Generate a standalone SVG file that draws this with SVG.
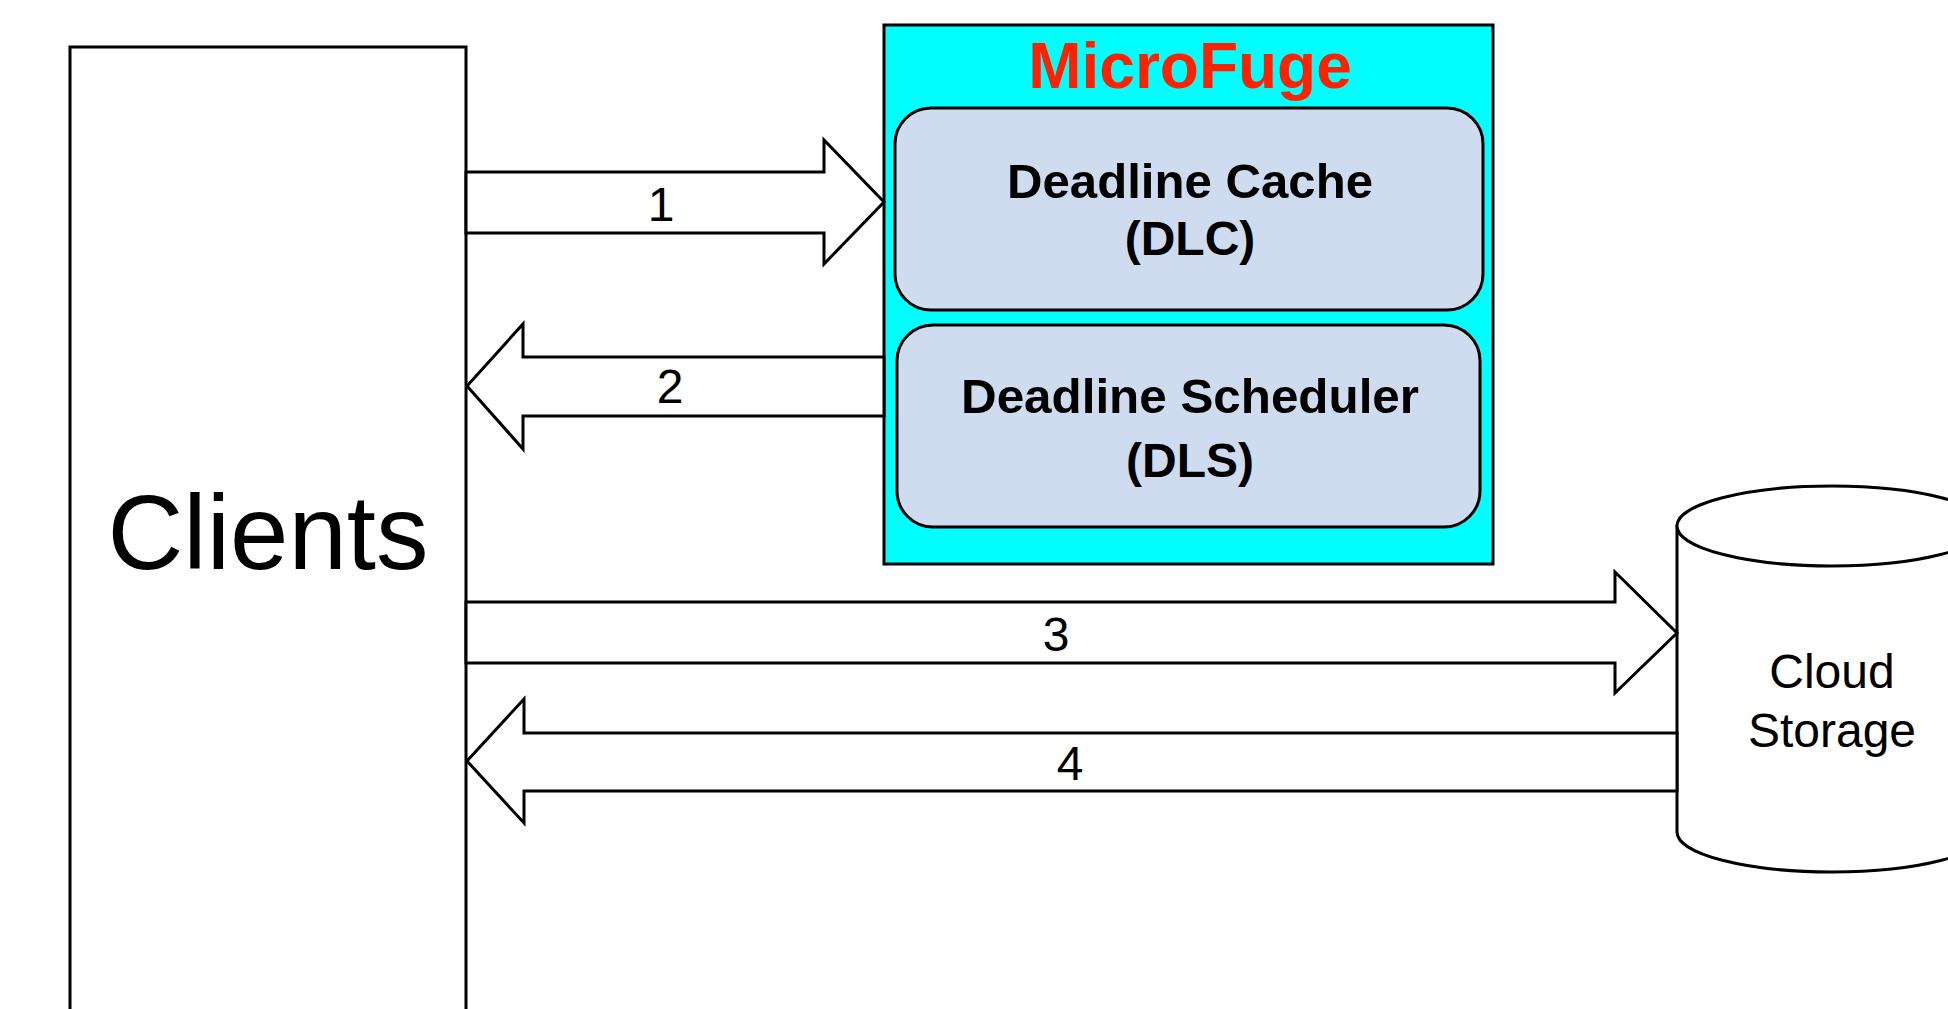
<svg xmlns="http://www.w3.org/2000/svg" width="1948" height="1009" viewBox="0 0 1948 1009">
<style>
.ln{stroke:#000;stroke-width:3;stroke-linejoin:miter}
.arrow{fill:#fff;stroke:#000;stroke-width:3;stroke-linejoin:miter}
.t{font-family:"Liberation Sans",Arial,sans-serif;fill:#000;text-anchor:middle}
.b{font-weight:bold}
.sub{fill:#cfdcf0;stroke:#000;stroke-width:3}
</style>
<rect width="1948" height="1009" fill="#fff"/>
<g id="clients">
<rect class="ln" x="70" y="47" width="396" height="1000" fill="#fff"/>
<text class="t" x="268" y="569" font-size="105">Clients</text>
</g>
<g id="microfuge">
<rect class="ln" x="884" y="25" width="609" height="539" fill="#00ffff"/>
<text class="t b" x="1190" y="88" font-size="64" style="fill:#ff2200">MicroFuge</text>
</g>
<g id="dlc">
<rect class="sub" x="895" y="108" width="588" height="202" rx="36" ry="36"/>
<text class="t b" x="1190" y="198" font-size="48" textLength="366" lengthAdjust="spacingAndGlyphs">Deadline Cache</text>
<text class="t b" x="1190" y="255" font-size="48">(DLC)</text>
</g>
<g id="dls">
<rect class="sub" x="897" y="325" width="583" height="202" rx="36" ry="36"/>
<text class="t b" x="1190" y="413" font-size="48" textLength="458" lengthAdjust="spacingAndGlyphs">Deadline Scheduler</text>
<text class="t b" x="1190" y="477" font-size="48">(DLS)</text>
</g>
<g id="cloud">
<path class="ln" fill="#fff" d="M1677,526 L1677,832 A155,40 0 0 0 1987,832 L1987,526 Z"/>
<ellipse class="ln" fill="#fff" cx="1832" cy="526" rx="155" ry="40"/>
<text class="t" x="1832" y="688" font-size="48">Cloud</text>
<text class="t" x="1832" y="747" font-size="48">Storage</text>
</g>
<g id="connectors">
<polygon class="arrow" points="466,172 824,172 824,140 884,202 824,264 824,233 466,233"/>
<polygon class="arrow" points="884,357 523,357 523,324 467,386 523,449 523,416 884,416"/>
<polygon class="arrow" points="466,602 1615,602 1615,572 1677,633 1615,693 1615,663 466,663"/>
<polygon class="arrow" points="1677,733 524,733 524,699 467,761 524,823 524,791 1677,791"/>
<text class="t" x="661" y="221" font-size="48">1</text>
<text class="t" x="670" y="403" font-size="48">2</text>
<text class="t" x="1056" y="651" font-size="48">3</text>
<text class="t" x="1070" y="780" font-size="48">4</text>
</g>
</svg>
